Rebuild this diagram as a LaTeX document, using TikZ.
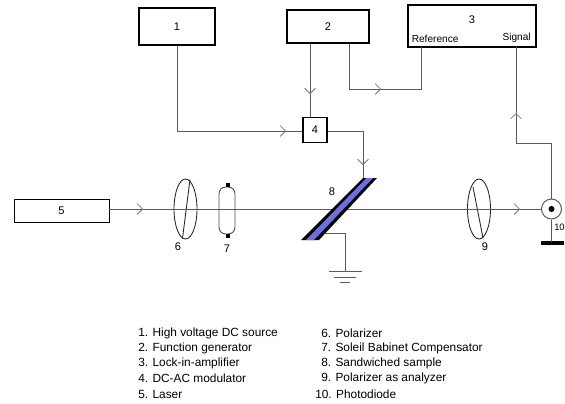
\documentclass[tikz,border=0pt]{standalone}
\usepackage{fontspec}
\setmainfont{Liberation Sans}
\usetikzlibrary{arrows.meta,shapes.geometric}
\definecolor{wire}{HTML}{5A5A5A}
\definecolor{samplefill}{HTML}{6F6FE0}
\tikzset{
  unitbox/.style={draw=black, line width=1.2pt, fill=white, inner sep=0pt},
  wireline/.style={draw=wire, line width=0.75pt},
  flow/.style={wireline, -{Straight Barb[length=4pt,width=8pt,line width=0.5pt]}},
  lens/.style={draw=black!85, line width=0.65pt, ellipse, inner sep=0pt, minimum width=17.25pt, minimum height=45pt},
  legend/.style={anchor=west, inner sep=0pt, font=\fontsize{8.9}{10}\selectfont},
  tag/.style={inner sep=0pt, font=\fontsize{8.3}{10}\selectfont},
  pintag/.style={inner sep=0pt, font=\fontsize{7.6}{9}\selectfont}
}
\begin{document}
\begin{tikzpicture}[x=0.75pt,y=-0.75pt,font=\fontsize{8.3}{10}\selectfont]
  \useasboundingbox (0,0) rectangle (565,404);

  % Boxes
  \node[unitbox, minimum width=57pt, minimum height=27.75pt] (src) at (177,26.5) {1};
  \node[unitbox, minimum width=61.5pt, minimum height=24.75pt] (gen) at (328,26.5) {2};
  \node[unitbox, minimum width=96pt, minimum height=31.5pt] (lock) at (472,26) {};
  \node[tag] (lockno) at (472,20) {3};
  \node[pintag, anchor=west] (lockref) at (411.5,39) {Reference};
  \node[pintag, anchor=east] (locksig) at (531,38) {Signal};
  \node[unitbox, minimum width=18pt, minimum height=18.75pt] (mod) at (315,130) {4};
  \node[unitbox, line width=0.7pt, minimum width=71.25pt, minimum height=17.25pt] (laser) at (61.5,210.5) {5};

  % Optics
  \node[lens] (pol) at (185.5,209) {};
  \draw[draw=black!85, line width=0.65pt] (190,179.5) -- (182.5,238.5);
  \node[tag] (pollabel) at (178,247) {6};
  \node[draw=black!70, line width=0.7pt, rounded corners=5pt, minimum width=12pt, minimum height=35.25pt, inner sep=0pt] (comp) at (227,210.5) {};
  \fill[black] (226,183) rectangle (230,187);
  \fill[black] (226,233.5) rectangle (230,237.5);
  \node[tag] (complabel) at (227,249) {7};
  \node[tag] (samplelabel) at (332,192) {8};
  \node[lens] (ana) at (479,209) {};
  \draw[draw=black!85, line width=0.65pt] (473,187) -- (483,238);
  \node[tag] (analabel) at (485,247) {9};
  \node[circle, draw=wire, line width=0.75pt, minimum size=15pt, inner sep=0pt] (diode) at (551.5,209) {};
  \fill[black] (551.5,209) circle (3);
  \fill[black] (541,241) rectangle (564,245);
  \node[inner sep=0pt, anchor=west, font=\fontsize{7}{8}\selectfont] (diodelabel) at (554,227) {10};

  % Arrows
  \coordinate (a1) at (286,131);
  \coordinate (a2) at (310,94);
  \coordinate (a3) at (381,89);
  \coordinate (a4) at (363,165);
  \coordinate (a5) at (516,113);
  \coordinate (a6) at (143,209);
  \coordinate (a7) at (520,209);
  \coordinate (turn2) at (349,89);
  \coordinate (refpin) at (421,47);
  \coordinate (sigpin) at (516,47);
  \coordinate (sigturn) at (516,143);
  \coordinate (sampletop) at (363,178);
  \coordinate (samplegnd) at (323,233);
  \coordinate (gndtop) at (345,271);
  \coordinate (gndmid) at (345,277);
  \coordinate (gndlow) at (345,282);
  \coordinate (diodefoot) at (551.5,242);

  \draw[flow] (src.south) |- (a1);
  \draw[wireline] (a1) -- (mod.west |- a1);
  \draw[flow] (gen.south -| a2) -- (a2);
  \draw[wireline] (a2) -- (mod.north -| a2);
  \draw[flow] (gen.south -| turn2) -- (turn2) -- (a3);
  \draw[wireline] (a3) -| (refpin);
  \draw[flow] (mod.east |- a1) -| (a4);
  \draw[wireline] (a4) -- (sampletop);
  \draw[flow] (diode.north) |- (sigturn) -- (a5);
  \draw[wireline] (a5) -- (sigpin);
  \draw[flow] (laser.east |- a6) -- (a6);
  \draw[flow] (a6) -- (a7);
  \draw[wireline] (a7) -- (diode.west);
  \draw[wireline] (samplegnd) -| (gndtop);
  \draw[wireline] (diode.south) -- (diodefoot);

  % Ground
  \draw[wireline] ([xshift=-12pt]gndtop) -- ([xshift=12.75pt]gndtop);
  \draw[wireline] ([xshift=-8.25pt]gndmid) -- ([xshift=8.25pt]gndmid);
  \draw[wireline] ([xshift=-3.75pt]gndlow) -- ([xshift=3.75pt]gndlow);

  % Sample
  \fill[black] (sampletop) -- (377,178) -- (319,240) -- (301,240) -- cycle;
  \fill[samplefill] (366.5,178) -- (373,178) -- (314,240) -- (306,240) -- cycle;

  % Legend
  \node[legend] (l1) at (138,333) {1. High voltage DC source};
  \node[legend] (l2) at (138,348) {2. Function generator};
  \node[legend] (l3) at (138,363.5) {3. Lock-in-amplifier};
  \node[legend] (l4) at (138,378.5) {4. DC-AC modulator};
  \node[legend] (l5) at (138,394) {5. Laser};
  \node[legend] (l6) at (321,333) {6. Polarizer};
  \node[legend] (l7) at (321,348) {7. Soleil Babinet Compensator};
  \node[legend] (l8) at (321,363.5) {8. Sandwiched sample};
  \node[legend] (l9) at (321,378.5) {9. Polarizer as analyzer};
  \node[legend] (l10) at (315,394) {10. Photodiode};
\end{tikzpicture}
\end{document}
